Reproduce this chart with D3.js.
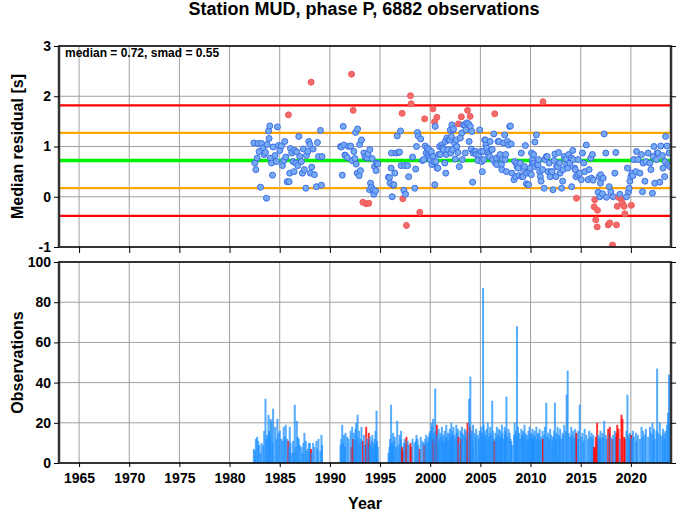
<!DOCTYPE html>
<html><head><meta charset="utf-8">
<script src="https://cdn.jsdelivr.net/npm/d3@7"></script>
<style>
html,body{margin:0;padding:0;background:#fff;}
text{font-family:"Liberation Sans",Arial,Helvetica,sans-serif;font-weight:bold;fill:#000;}
</style></head>
<body>
<svg id="chart" width="677" height="511"></svg>
<script>
// ---- DATA ----
const titleText = "Station MUD, phase P, 6882 observations";
const statsText = "median = 0.72, smad = 0.55";
const medianValue = 0.72;
const smadValue = 0.55;
const yearTicks = [1965,1970,1975,1980,1985,1990,1995,2000,2005,2010,2015,2020];
const residualTicks = [-1,0,1,2,3];
const countTicks = [0,20,40,60,80,100];
// bins: [year, median residual (s), observations, flagged (1 = red)]
const bins1980s = [
[1982.42,1.07,7,0],[1982.52,0.67,6,0],[1982.62,0.54,12,0],[1982.75,0.77,13,0],[1982.85,1.06,11,0],[1982.95,0.90,9,0],
[1983.08,0.19,5,0],[1983.18,1.06,10,0],[1983.35,0.97,9,0],[1983.45,0.84,16,0],[1983.58,0.88,32,0],[1983.68,-0.03,12,0],
[1983.74,1.04,14,0],[1983.88,1.31,24,0],[1983.94,1.16,16,0],[1984.01,1.41,15,0],[1984.08,0.77,22,0],[1984.18,0.67,21,0],
[1984.28,0.43,10,0],[1984.34,0.99,27,0],[1984.54,0.82,18,0],[1984.67,0.70,12,0],[1984.77,1.39,22,0],[1984.87,1.02,15,0],
[1985.01,0.92,16,0],[1985.17,1.01,12,0],[1985.27,0.62,11,0],[1985.40,0.72,18,0],[1985.50,1.10,13,0],[1985.60,0.79,19,0],
[1985.74,0.30,12,0],[1985.87,1.63,11,1],[1985.94,0.30,8,0],[1986.00,0.47,18,0],[1986.07,0.96,10,0],[1986.20,0.87,5,0],
[1986.33,0.70,11,0],[1986.43,0.50,5,0],[1986.50,0.92,29,0],[1986.60,0.67,8,0],[1986.70,0.89,21,0],[1986.80,0.62,13,0],
[1986.90,1.20,12,0],[1987.00,0.80,9,0],[1987.16,0.70,8,0],[1987.26,0.47,5,0],[1987.36,0.95,10,0],[1987.46,0.54,15,0],
[1987.60,0.17,11,0],[1987.66,0.82,6,0],[1987.80,0.90,7,0],[1987.90,1.10,10,0],[1988.00,1.04,10,0],[1988.06,0.47,6,0],
[1988.13,2.28,7,1],[1988.19,0.59,5,0],[1988.33,0.95,10,0],[1988.46,0.44,8,0],[1988.66,0.20,11,0],[1988.76,1.08,7,0],
[1988.86,0.80,12,0],[1989.06,1.32,6,0],[1989.16,0.23,14,0],[1989.22,0.80,9,0]
];
const bins1990s = [
[1991.06,1.00,9,0],[1991.13,0.99,12,0],[1991.23,0.43,19,0],[1991.33,1.40,10,0],[1991.40,1.03,14,0],[1991.50,0.83,8,0],
[1991.56,0.82,15,0],[1991.73,0.78,13,0],[1991.85,1.00,12,0],[1992.06,1.01,16,0],[1992.16,2.44,8,1],[1992.22,0.72,18,0],
[1992.32,1.72,12,1],[1992.39,0.90,15,0],[1992.49,0.76,11,0],[1992.56,1.28,17,0],[1992.62,0.65,20,0],[1992.72,0.47,13,0],
[1992.76,1.35,24,0],[1992.92,0.42,16,0],[1992.96,1.04,10,0],[1993.05,0.52,12,0],[1993.15,1.13,18,0],[1993.29,-0.11,11,1],
[1993.39,0.87,14,0],[1993.50,0.79,9,0],[1993.62,-0.14,18,1],[1993.70,0.77,12,0],[1993.79,0.85,10,0],[1993.88,-0.13,15,1],
[1993.95,0.14,8,0],[1993.98,0.94,13,0],[1994.05,0.27,9,0],[1994.15,0.19,11,0],[1994.22,0.76,14,0],[1994.32,0.14,7,0],
[1994.38,0.05,10,0],[1994.45,0.60,12,0],[1994.55,0.12,16,0],[1994.60,0.52,9,0],[1994.65,0.65,26,0],[1994.71,0.67,11,0],
[1994.78,0.65,8,0],
[1995.84,0.39,5,0],[1995.94,0.38,8,0],[1996.00,0.27,12,0],[1996.10,0.57,29,0],[1996.14,0.87,10,0],[1996.21,0.00,9,0],
[1996.30,0.23,15,0],[1996.37,0.24,11,0],[1996.47,0.47,13,0],[1996.60,0.87,8,0],[1996.71,1.21,21,0],[1996.85,0.88,9,0],
[1996.94,0.89,14,0],[1997.04,1.31,12,0],[1997.10,0.62,16,0],[1997.20,1.66,8,1],[1997.27,-0.04,6,1],[1997.37,0.13,10,0],
[1997.46,0.62,12,0],[1997.54,0.05,9,0],[1997.63,-0.57,13,1],[1997.75,0.62,11,0],[1997.85,0.40,9,0],[1998.03,2.01,10,1],
[1998.10,1.85,8,1],[1998.24,0.79,12,0],[1998.46,0.17,10,0],[1998.55,0.55,11,0],[1998.63,1.00,14,0],[1998.73,1.28,12,0],
[1998.80,1.21,9,0],[1998.96,-0.31,7,1],[1999.05,1.15,13,0],[1999.23,0.72,11,0],[1999.34,0.74,10,0],[1999.44,1.55,9,1],
[1999.50,1.01,12,0],[1999.60,0.87,14,0],[1999.69,0.97,10,0],[1999.80,0.84,13,0],[1999.86,0.94,11,0],[1999.93,0.80,15,0]
];
const bins2000s = [
[2000.00,0.74,16,0],[2000.06,0.87,14,0],[2000.12,0.90,20,0],[2000.17,0.64,18,0],[2000.27,1.75,12,1],[2000.29,0.80,22,0],
[2000.38,0.70,15,0],[2000.43,1.49,10,1],[2000.45,0.24,13,0],[2000.50,1.40,37,0],[2000.56,0.70,16,0],[2000.66,1.58,19,1],
[2000.69,0.57,14,0],[2000.76,0.57,11,0],[2000.84,0.84,17,0],[2000.93,1.00,12,0],[2001.00,0.84,15,0],[2001.12,1.03,13,0],
[2001.16,0.97,18,0],[2001.28,0.97,11,0],[2001.33,0.94,14,0],[2001.45,0.67,16,0],[2001.50,1.10,10,0],[2001.55,0.47,12,0],
[2001.60,0.84,19,0],[2001.66,1.17,13,0],[2001.78,0.94,15,0],[2001.83,1.13,11,0],[2001.95,1.13,17,0],[2002.00,1.33,14,0],
[2002.05,0.87,12,0],[2002.10,1.20,20,0],[2002.16,1.43,13,0],[2002.22,0.94,16,0],[2002.28,1.33,11,0],[2002.32,1.35,18,0],
[2002.42,1.07,14,0],[2002.50,0.75,12,0],[2002.60,1.13,19,0],[2002.66,1.00,15,0],[2002.76,0.88,17,0],[2002.82,1.45,13,1],
[2002.90,0.60,10,0],[2003.00,1.17,16,0],[2003.10,1.59,12,1],[2003.15,1.27,18,0],[2003.20,0.74,15,0],[2003.32,1.43,14,0],
[2003.44,1.43,17,0],[2003.49,0.87,13,0],[2003.55,1.33,16,0],[2003.65,1.47,12,0],[2003.72,1.72,20,1],[2003.82,1.45,15,0],
[2003.88,1.10,32,0],[2003.98,1.60,18,1],[2004.00,1.40,43,0],[2004.08,0.95,14,0],[2004.15,1.30,16,0],[2004.22,0.29,11,0],
[2004.27,0.87,19,0],[2004.42,0.90,15,0],[2004.53,0.90,13,0],[2004.58,0.84,17,0],[2004.75,0.72,14,0],[2004.85,0.84,12,0],
[2004.93,1.33,16,0],[2005.05,0.90,18,0],[2005.15,0.70,15,0],[2005.20,0.50,13,0],[2005.27,0.90,87,0],[2005.33,0.74,19,0],
[2005.43,1.13,16,0],[2005.50,1.13,14,0],[2005.55,1.03,12,0],[2005.64,0.97,17,0],[2005.74,0.88,20,0],[2005.82,0.84,13,0],
[2005.93,0.80,15,0],[2005.98,1.10,18,0],[2006.10,0.94,14,0],[2006.18,0.94,31,0],[2006.24,0.74,16,0],[2006.34,1.25,12,0],
[2006.43,1.65,11,1],[2006.50,0.67,15,0],[2006.60,0.77,13,0],[2006.64,0.64,18,0],[2006.76,1.10,14,0],[2006.85,1.10,17,0],
[2006.93,0.80,12,0],[2006.97,0.84,16,0],[2007.10,0.64,13,0],[2007.14,0.54,19,0],[2007.20,0.75,15,0],[2007.30,1.07,12,0],
[2007.42,1.23,18,0],[2007.47,0.74,14,0],[2007.52,0.84,16,0],[2007.60,0.50,33,0],[2007.70,1.10,13,0],[2007.80,1.03,17,0],
[2007.92,1.40,15,0],[2008.00,1.41,12,0],[2008.07,1.05,11,0],[2008.15,0.47,9,0],[2008.35,0.34,14,0],[2008.42,0.70,20,0],
[2008.53,0.40,16,0],[2008.59,0.66,13,0],[2008.65,0.60,68,0],[2008.75,0.57,18,0],[2008.85,0.42,15,0],[2008.97,0.67,12,0],
[2009.08,0.87,17,0],[2009.13,0.40,14,0],[2009.25,0.40,16,0],[2009.30,0.54,13,0],[2009.40,0.60,19,0],[2009.48,1.02,15,0],
[2009.58,0.26,11,0],[2009.63,0.47,14,0],[2009.75,0.24,12,0],[2009.80,0.24,16,0],[2009.91,0.50,18,0],[2009.96,0.57,14,0]
];
const bins2010s = [
[2010.08,0.44,13,0],[2010.10,0.87,15,0],[2010.18,0.67,12,0],[2010.20,0.74,17,0],[2010.31,0.84,14,0],[2010.33,0.67,11,0],
[2010.41,0.60,16,0],[2010.43,1.09,13,0],[2010.58,1.23,18,0],[2010.64,0.64,12,0],[2010.74,0.64,15,0],[2010.80,0.74,14,0],
[2010.91,0.50,17,0],[2010.98,0.40,11,0],[2011.05,0.31,13,0],[2011.20,0.54,16,0],[2011.24,1.89,12,1],[2011.36,0.17,14,0],
[2011.43,0.74,18,0],[2011.57,0.80,30,0],[2011.66,0.80,13,0],[2011.76,0.50,15,0],[2011.86,0.67,12,0],[2011.95,0.40,17,0],
[2012.07,0.50,14,0],[2012.15,0.50,11,0],[2012.24,0.14,13,0],[2012.35,0.72,16,0],[2012.43,0.85,30,0],[2012.53,0.40,12,0],
[2012.60,0.60,15,0],[2012.70,0.60,18,0],[2012.80,0.88,14,0],[2012.90,0.67,13,0],[2012.95,0.47,17,0],[2013.09,0.17,12,0],
[2013.20,0.31,15,0],[2013.26,0.54,14,0],[2013.36,0.80,19,0],[2013.52,0.75,16,0],[2013.60,0.64,34,0],[2013.70,0.57,46,0],
[2013.80,0.84,15,0],[2013.92,0.67,13,0],[2014.06,0.77,18,0],[2014.10,0.20,14,0],[2014.20,0.92,12,0],[2014.25,0.74,16,0],
[2014.40,0.57,13,0],[2014.45,0.54,17,0],[2014.52,0.40,14,0],[2014.58,-0.03,15,1],[2014.73,0.44,12,0],[2014.75,0.74,16,0],
[2014.90,0.47,29,0],[2015.06,0.34,13,0],[2015.18,0.87,15,0],[2015.30,0.67,11,0],[2015.39,0.50,17,0],[2015.56,1.03,14,0],
[2015.74,0.34,12,0],[2015.84,0.54,16,0],[2016.00,0.77,13,0],[2016.07,0.37,15,0],[2016.17,0.84,12,0],[2016.24,0.33,14,0],
[2016.34,-0.20,8,1],[2016.40,-0.06,7,1],[2016.50,-0.46,13,1],[2016.64,-0.60,20,1],[2016.67,-0.27,11,1],[2016.74,0.09,14,0],
[2016.84,0.40,12,0],[2016.90,0.00,13,0],[2016.97,0.27,16,0],[2017.00,0.44,12,0],[2017.17,0.06,15,0],[2017.24,0.37,13,0],
[2017.34,1.25,21,0],[2017.50,0.87,14,0],[2017.57,-0.01,12,0],[2017.74,-0.56,17,1],[2017.84,0.20,15,0],[2017.90,-0.52,18,1],
[2018.00,0.10,13,0],[2018.17,-0.96,12,1],[2018.24,0.00,14,0],[2018.40,0.47,16,0],[2018.50,0.88,13,0],[2018.57,-0.56,15,1],
[2018.64,-0.19,19,1],[2018.77,-0.01,17,1],[2018.90,0.05,12,0],[2019.06,-0.06,24,1],[2019.16,-0.13,22,1],[2019.33,-0.19,13,1],
[2019.40,-0.34,12,1],[2019.56,0.00,16,0],[2019.66,0.57,34,0],[2019.76,0.10,14,0],[2019.83,0.17,12,0],[2019.90,0.31,15,0]
];
const bins2020s = [
[2020.00,0.40,14,0],[2020.05,-0.17,14,1],[2020.10,0.47,12,0],[2020.20,0.42,16,0],[2020.30,0.74,13,0],[2020.50,0.50,15,0],
[2020.56,0.90,11,0],[2020.70,0.74,14,0],[2020.90,0.47,12,0],[2021.06,0.84,18,0],[2021.16,0.10,13,0],[2021.23,0.67,16,0],
[2021.40,0.31,14,0],[2021.50,0.70,17,0],[2021.72,0.87,13,0],[2021.90,0.67,18,0],[2022.00,0.54,15,0],[2022.15,0.07,20,0],
[2022.22,0.80,14,0],[2022.30,1.00,17,0],[2022.38,0.27,12,0],[2022.55,0.74,16,0],[2022.62,0.87,47,0],[2022.70,0.87,15,0],
[2022.88,0.29,20,0],[2022.98,1.01,14,0],[2023.15,0.82,13,0],[2023.20,0.57,17,0],[2023.36,0.40,15,0],[2023.40,0.70,12,0],
[2023.46,1.20,16,0],[2023.60,1.01,19,0],[2023.70,0.64,25,0],[2023.80,0.87,44,0],[2023.90,0.60,20,0]
];

// ---- LAYOUT ----
const left = 59, right = 671;
const top1 = 46, bot1 = 247;
const top2 = 262, bot2 = 463;
const bins = [].concat(bins1980s, bins1990s, bins2000s, bins2010s, bins2020s)
  .map(d => ({year:d[0], res:d[1], n:d[2], flag:d[3]}));

const svg = d3.select("#chart");
const x = d3.scaleLinear().domain([1963, 2024]).range([left, right]);
const yRes = d3.scaleLinear().domain([-1, 3]).range([bot1, top1]);
const yCnt = d3.scaleLinear().domain([0, 100]).range([bot2, top2]);

svg.append("defs").call(g => {
  g.append("clipPath").attr("id","clip1").append("rect")
    .attr("x",left).attr("y",top1).attr("width",right-left).attr("height",bot1-top1);
  g.append("clipPath").attr("id","clip2").append("rect")
    .attr("x",left).attr("y",top2).attr("width",right-left).attr("height",bot2-top2);
});

// title
svg.append("text").attr("x",(left+right)/2 - 1).attr("y",15).attr("text-anchor","middle")
  .style("font-size","18px").text(titleText);

function grid(yScale, yTicks, y0, y1){
  const g = svg.append("g").attr("stroke","#a0a0a0").attr("stroke-width",1);
  g.selectAll(".gx").data(yearTicks).enter().append("line")
    .attr("x1",d=>x(d)).attr("x2",d=>x(d)).attr("y1",y0).attr("y2",y1);
  g.selectAll(".gy").data(yTicks).enter().append("line")
    .attr("x1",left).attr("x2",right).attr("y1",d=>yScale(d)).attr("y2",d=>yScale(d));
}
grid(yRes, residualTicks, top1, bot1);
grid(yCnt, countTicks, top2, bot2);

// ---- top panel ----
const p1 = svg.append("g").attr("clip-path","url(#clip1)");
const refLines = [
  {v: medianValue + 2*smadValue, c:"#ff0000", w:2.2},
  {v: medianValue - 2*smadValue, c:"#ff0000", w:2.2},
  {v: medianValue + smadValue, c:"#ffa500", w:2.2},
  {v: medianValue - smadValue, c:"#ffa500", w:2.2},
  {v: medianValue, c:"#00ee00", w:3.5}
];
p1.selectAll(".ref").data(refLines).enter().append("line")
  .attr("x1",left).attr("x2",right)
  .attr("y1",d=>yRes(d.v)).attr("y2",d=>yRes(d.v))
  .attr("stroke",d=>d.c).attr("stroke-width",d=>d.w);

p1.selectAll(".pt").data(bins).enter().append("circle")
  .attr("cx",d=>x(d.year)).attr("cy",d=>yRes(d.res)).attr("r",3)
  .attr("fill",d=>d.flag ? "#f36a6a" : "#76aaf2")
  .attr("stroke",d=>d.flag ? "#f05a5a" : "#3d6ee6")
  .attr("stroke-width",1);

svg.append("text").attr("x",65).attr("y",57).style("font-size","12px").text(statsText);

// ---- bottom panel ----
const p2 = svg.append("g").attr("clip-path","url(#clip2)");
const bw = x(1963.2) - x(1963);
p2.selectAll(".bar").data(bins).enter().append("rect")
  .attr("x",d=>x(d.year)-bw/2).attr("width",bw)
  .attr("y",d=>yCnt(d.n)).attr("height",d=>yCnt(0)-yCnt(d.n))
  .attr("fill",d=>d.flag ? "rgba(255,0,0,0.8)" : "rgba(30,144,255,0.75)");

// ---- frames and axes ----
function frame(y0, y1){
  svg.append("line").attr("x1",left).attr("x2",right).attr("y1",y0).attr("y2",y0)
    .attr("stroke","#000").attr("stroke-width",1.5);
  svg.append("line").attr("x1",left).attr("x2",right).attr("y1",y1).attr("y2",y1)
    .attr("stroke","#000").attr("stroke-width",1.5);
  svg.append("line").attr("x1",left).attr("x2",left).attr("y1",y0-0.75).attr("y2",y1+0.75)
    .attr("stroke","#333").attr("stroke-width",2.5);
  svg.append("line").attr("x1",right).attr("x2",right).attr("y1",y0-0.75).attr("y2",y1+0.75)
    .attr("stroke","#333").attr("stroke-width",2.5);
}
frame(top1, bot1);
frame(top2, bot2);

function styleAxis(g){
  g.select(".domain").remove();
  g.selectAll(".tick line").attr("stroke","#000").attr("stroke-width",1);
  g.selectAll(".tick text").style("font-size","14px").style("font-weight","bold")
    .style("font-family","'Liberation Sans',Arial,sans-serif").attr("fill","#000");
}
const plainFmt = d => String(d);
// top panel axes
svg.append("g").attr("transform",`translate(${left},0)`)
  .call(d3.axisLeft(yRes).tickValues(residualTicks).tickSize(5).tickPadding(3).tickFormat(plainFmt))
  .call(styleAxis);
svg.append("g").attr("transform",`translate(${right},0)`)
  .call(d3.axisRight(yRes).tickValues(residualTicks).tickSize(5).tickFormat(""))
  .call(styleAxis);
svg.append("g").attr("transform",`translate(0,${bot1})`)
  .call(d3.axisBottom(x).tickValues(yearTicks).tickSize(6).tickFormat(""))
  .call(styleAxis);
// bottom panel axes
svg.append("g").attr("transform",`translate(${left},0)`)
  .call(d3.axisLeft(yCnt).tickValues(countTicks).tickSize(5).tickPadding(3).tickFormat(plainFmt))
  .call(styleAxis);
svg.append("g").attr("transform",`translate(${right},0)`)
  .call(d3.axisRight(yCnt).tickValues(countTicks).tickSize(5).tickFormat(""))
  .call(styleAxis);
svg.append("g").attr("transform",`translate(0,${bot2})`)
  .call(d3.axisBottom(x).tickValues(yearTicks).tickSize(4).tickPadding(6).tickFormat(plainFmt))
  .call(styleAxis);

// axis titles
svg.append("text").attr("transform",`translate(23,${(top1+bot1)/2}) rotate(-90)`)
  .attr("text-anchor","middle").style("font-size","16px").text("Median residual [s]");
svg.append("text").attr("transform",`translate(23,${(top2+bot2)/2}) rotate(-90)`)
  .attr("text-anchor","middle").style("font-size","16px").text("Observations");
svg.append("text").attr("x",(left+right)/2).attr("y",509).attr("text-anchor","middle")
  .style("font-size","16px").text("Year");
</script>
</body></html>
